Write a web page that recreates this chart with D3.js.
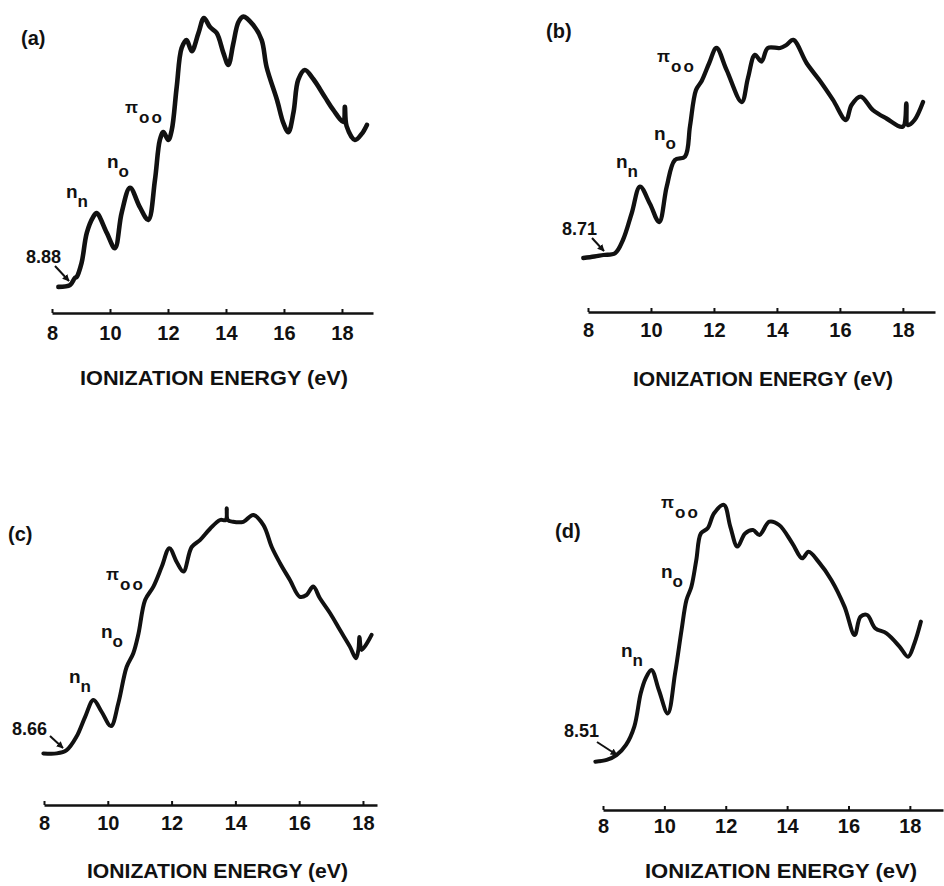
<!DOCTYPE html>
<html>
<head>
<meta charset="utf-8">
<script src="https://cdn.jsdelivr.net/npm/d3@7"></script>
<style>
  html, body { margin: 0; padding: 0; background: #ffffff; }
  svg { display: block; }
  text { font-family: "Liberation Sans", Arial, Helvetica, sans-serif; font-weight: bold; fill: #111; }
</style>
</head>
<body>
<svg id="chart" width="944" height="886"></svg>
<script>
// Photoelectron spectra of four related compounds: intensity (arb. units) vs ionization energy (eV)

const ticksEV = [8, 10, 12, 14, 16, 18];
const panelNames = ["(a)", "(b)", "(c)", "(d)"];
const onsetLabels = ["8.88", "8.71", "8.66", "8.51"];
const axisTitle = "IONIZATION ENERGY  (eV)";

const energyA = [8.22, 8.62, 8.79, 8.85, 9.02, 9.2, 9.42, 9.54, 9.89, 10.17, 10.4, 10.69, 11.03, 11.32,
  11.55, 11.72, 11.84, 12.01, 12.13, 12.3, 12.47, 12.64, 12.82, 13.05, 13.24, 13.45, 13.68, 13.91,
  14.08, 14.25, 14.43, 14.6, 14.94, 15.23, 15.4, 15.76, 15.98, 16.15, 16.33, 16.49, 16.72, 17.01,
  17.41, 17.7, 18.05, 18.1, 18.16, 18.45, 18.68, 18.86];
const intensityA = [8.7, 9.3, 11.7, 12, 16.7, 26.7, 32, 33.3, 26.7, 21.6, 33.3, 41.7, 35.3, 31,
  44.3, 57.7, 60.3, 57.7, 61, 75.3, 88.3, 91, 87.3, 93.3, 98.3, 95.3, 93.3, 86.7,
  82.7, 89.7, 97, 98.8, 96, 91, 82, 71, 63.3, 60.3, 67, 77.7, 81, 78,
  72, 67.7, 63.7, 68.7, 62.3, 57.7, 59.7, 62.7];

const energyB = [7.85, 8.2, 8.49, 8.86, 9.11, 9.39, 9.65, 9.97, 10.26, 10.5, 10.76, 11.08, 11.24, 11.43,
  11.61, 11.85, 12.08, 12.4, 12.88, 13.08, 13.3, 13.51, 13.71, 14.1, 14.3, 14.52, 14.94, 15.37,
  15.78, 16.19, 16.37, 16.66, 17.05, 17.48, 18.0, 18.11, 18.16, 18.37, 18.64];
const intensityB = [18, 18.5, 19, 19.6, 24, 33, 41.8, 36, 30, 41.8, 50.7, 51.8, 62, 74,
  77, 83, 88, 80.7, 70, 78, 85.7, 83.5, 88, 88, 89, 90.7, 83, 77,
  70.7, 64, 69, 71.8, 67.3, 64.5, 61.8, 69.5, 62.3, 64, 70];

const energyC = [7.98, 8.4, 8.71, 9.02, 9.29, 9.55, 9.81, 10.1, 10.33, 10.59, 10.8, 10.96, 11.17, 11.43,
  11.69, 11.93, 12.16, 12.37, 12.63, 12.89, 13.2, 13.52, 13.7, 13.73, 13.76, 13.93, 14.25, 14.56,
  14.88, 15.14, 15.4, 15.71, 16.02, 16.23, 16.44, 16.65, 16.97, 17.28, 17.59, 17.78, 17.86, 17.89,
  17.96, 18.27];
const intensityC = [17.2, 17.2, 18.3, 22.8, 29.4, 35, 31, 26.3, 33.9, 46, 50.6, 57, 68.3, 72.8,
  79.4, 85.6, 81, 77.8, 86, 88.3, 92, 95, 95, 98.9, 95, 94.4, 94.4, 96.7,
  93.3, 86, 80.6, 75, 69.4, 70, 72.8, 68.9, 63.9, 58.3, 52.8, 48.9, 52, 56,
  51.7, 56.7];

const energyD = [7.75, 8.12, 8.44, 8.75, 9.02, 9.23, 9.39, 9.58, 9.82, 10.11, 10.35, 10.56, 10.72, 10.88,
  11.04, 11.19, 11.41, 11.62, 11.94, 12.15, 12.38, 12.63, 12.89, 13.1, 13.42, 13.74, 14.17, 14.49,
  14.7, 15.02, 15.44, 15.87, 16.2, 16.39, 16.61, 16.87, 17.24, 17.67, 17.94, 18.15, 18.36];
const intensityD = [16.1, 16.7, 18.3, 21.7, 27.8, 38.9, 43.9, 46.7, 40, 32.2, 45.6, 60, 70, 74.4,
  83.3, 92.2, 93.9, 98.9, 101.7, 94.4, 87.8, 92.2, 93.3, 91.7, 96.1, 95, 88.9, 83.9,
  86.1, 82.8, 76.7, 67.8, 58.3, 64.4, 65, 60.6, 58.9, 54.4, 51.1, 55.6, 62.8];

const energies = [energyA, energyB, energyC, energyD];
const intensities = [intensityA, intensityB, intensityC, intensityD];

// Page placement of each panel and its annotations
const layout = [
  { x0: 52, x1: 373, eMax: 19.07, axisY: 313, stroke: 4.6, tickBase: 340,
    name: [21, 45], onset: [26, 263], arrow: [[55, 266], [69, 281]],
    nn: [66, 198], no: [107, 168], pi: [125, 113], title: [80, 385, 268] },
  { x0: 588, x1: 935, eMax: 19.02, axisY: 312, stroke: 4.3, tickBase: 337,
    name: [546, 38], onset: [562, 235], arrow: [[592, 238], [604, 251]],
    nn: [616, 168], no: [654, 140], pi: [657, 62], title: [633, 386, 260] },
  { x0: 44, x1: 377, eMax: 18.44, axisY: 805, stroke: 4.0, tickBase: 830,
    name: [8, 541], onset: [12, 735], arrow: [[50, 736], [63, 748]],
    nn: [69, 683], no: [101, 638], pi: [106, 580], title: [87, 878, 261] },
  { x0: 603, x1: 943, eMax: 19.08, axisY: 810, stroke: 4.0, tickBase: 833,
    name: [555, 538], onset: [564, 737], arrow: [[597, 742], [617, 755]],
    nn: [621, 657], no: [661, 578], pi: [661, 508], title: [645, 878, 272] }
];

const svg = d3.select("#chart");

svg.append("defs").append("marker")
  .attr("id", "head")
  .attr("viewBox", "0 0 10 10")
  .attr("refX", 9).attr("refY", 5)
  .attr("markerWidth", 7).attr("markerHeight", 7)
  .attr("markerUnits", "userSpaceOnUse")
  .attr("orient", "auto")
  .append("path")
  .attr("d", "M0,0 L10,5 L0,10 Z")
  .attr("fill", "#111");

layout.forEach((p, i) => {
  const g = svg.append("g");

  const x = d3.scaleLinear().domain([8, p.eMax]).range([p.x0, p.x1]);
  const y = d3.scaleLinear().domain([0, 100]).range([p.axisY, p.axisY - 300]);

  // Energy axis with short upward ticks
  const axis = g.append("g")
    .attr("transform", `translate(0,${p.axisY})`)
    .call(d3.axisBottom(x).tickValues(ticksEV).tickFormat(d3.format("d"))
      .tickSizeInner(-4).tickSizeOuter(0));
  axis.select(".domain").attr("stroke", "#111").attr("stroke-width", 2.6);
  axis.selectAll(".tick line").attr("stroke", "#111").attr("stroke-width", 2);
  axis.selectAll(".tick text")
    .attr("y", p.tickBase - p.axisY).attr("dy", 0)
    .style("font-size", "20px").style("font-weight", "bold")
    .style("font-family", '"Liberation Sans", Arial, sans-serif')
    .attr("fill", "#111");

  // Spectrum trace
  const pts = energies[i].map((e, k) => ({ e, v: intensities[i][k] }));
  g.append("path")
    .datum(pts)
    .attr("fill", "none")
    .attr("stroke", "#111")
    .attr("stroke-width", p.stroke)
    .attr("stroke-linejoin", "round")
    .attr("stroke-linecap", "round")
    .attr("d", d3.line().x(d => x(d.e)).y(d => y(d.v)).curve(d3.curveCatmullRom.alpha(0.5)));

  // Panel tag
  g.append("text").attr("x", p.name[0]).attr("y", p.name[1])
    .style("font-size", "20px").text(panelNames[i]);

  // Onset value with pointer
  g.append("text").attr("x", p.onset[0]).attr("y", p.onset[1])
    .style("font-size", "18px").text(onsetLabels[i]);
  g.append("line")
    .attr("x1", p.arrow[0][0]).attr("y1", p.arrow[0][1])
    .attr("x2", p.arrow[1][0]).attr("y2", p.arrow[1][1])
    .attr("stroke", "#111").attr("stroke-width", 2)
    .attr("marker-end", "url(#head)");

  // Orbital labels
  const nn = g.append("text").attr("x", p.nn[0]).attr("y", p.nn[1]).style("font-size", "19px");
  nn.append("tspan").text("n");
  nn.append("tspan").attr("dy", 9).style("font-size", "17px").text("n");

  const no = g.append("text").attr("x", p.no[0]).attr("y", p.no[1]).style("font-size", "19px");
  no.append("tspan").text("n");
  no.append("tspan").attr("dy", 9).style("font-size", "17px").text("o");

  const pi = g.append("text").attr("x", p.pi[0]).attr("y", p.pi[1]).style("font-size", "17px");
  pi.append("tspan").text("π");
  pi.append("tspan").attr("dy", 10).attr("dx", 1).style("font-size", "17px")
    .style("letter-spacing", "2px").text("oo");

  // Axis title
  g.append("text").attr("x", p.title[0]).attr("y", p.title[1])
    .attr("textLength", p.title[2]).attr("lengthAdjust", "spacingAndGlyphs")
    .style("font-size", "21px").text(axisTitle);
});
</script>
</body>
</html>
